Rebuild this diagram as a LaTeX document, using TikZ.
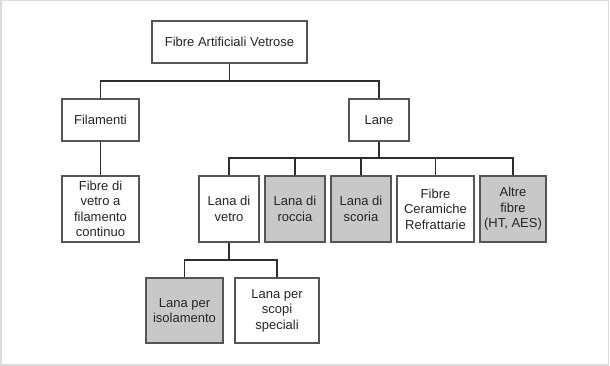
\documentclass[tikz,border=0pt]{standalone}
\usepackage{fontspec}
\setmainfont{Liberation Sans}
\usepackage{tikz}
\usetikzlibrary{positioning, calc}
\definecolor{boxline}{RGB}{85, 85, 85}
\definecolor{linkline}{RGB}{45, 45, 45}
\definecolor{boxgray}{RGB}{200, 200, 200}
\definecolor{framegray}{RGB}{220, 220, 220}

\begin{document}
\begin{tikzpicture}[
    x=1pt, y=1pt,
    cat/.style={rectangle, draw=boxline, line width=1.2pt, fill=#1, minimum width=60pt, minimum height=66pt, inner sep=1pt, align=center, text=black!85, font=\fontsize{13}{15.5}\selectfont},
    cat/.default=white,
    conn/.style={draw=linkline, line width=1.8pt}
]

% frame
\useasboundingbox (0,0) rectangle (610,-366);
\draw[framegray, line width=1.5pt] (0.75,-0.75) rectangle (608.5,-365);

% top levels
\node[cat, minimum width=155pt, minimum height=42pt] (root) at (229.5,-42) {Fibre Artificiali Vetrose};
\node[cat, minimum width=77pt, minimum height=42pt] (fil) at (100.5,-120) {Filamenti};
\node[cat, minimum width=60pt, minimum height=42pt] (lane) at (379,-120) {Lane};

% third level
\node[cat, minimum width=77pt] (fvetro) at (100.5,-209) {Fibre di\\vetro a\\filamento\\continuo};
\node[cat] (lvetro) at (229,-209) {Lana di\\vetro};
\node[cat=boxgray] (lroccia) at (295,-209) {Lana di\\roccia};
\node[cat=boxgray] (lscoria) at (361,-209) {Lana di\\scoria};
\node[cat, minimum width=77pt] (fcr) at (435.5,-209) {Fibre\\Ceramiche\\Refrattarie};
\node[cat=boxgray, minimum width=66pt] (altre) at (513,-209) {Altre\\fibre\\(HT, AES)};

% fourth level
\node[cat=boxgray, minimum width=77pt, minimum height=65pt] (liso) at (184.5,-310.5) {Lana per\\isolamento};
\node[cat, minimum width=84pt, minimum height=65pt] (lscopi) at (277,-310.5) {Lana per\\scopi\\speciali};

% bus points
\coordinate (b1) at (229.5,-81);
\coordinate (b2) at (379,-158);
\coordinate (b3) at (229,-260);

% connectors
\draw[conn] (root.south) -- (b1);
\draw[conn] (fil.north) |- (b1) -| (lane.north);
\draw[conn] (fil.south) -- (fvetro.north);
\draw[conn] (lane.south) -- (b2);
\draw[conn] (lvetro.north) |- (b2) -| (altre.north);
\foreach \n in {lroccia, lscoria, fcr}
    \draw[conn] (\n.north) -- (\n.north |- b2);
\draw[conn] (lvetro.south) -- (b3);
\draw[conn] (liso.north) |- (b3) -| (lscopi.north);

\end{tikzpicture}
\end{document}
